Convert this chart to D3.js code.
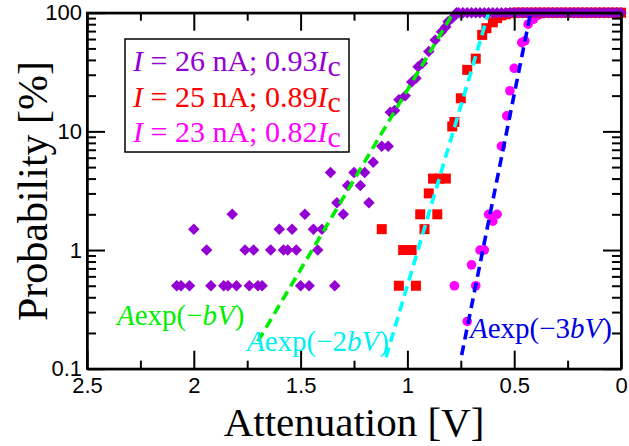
<!DOCTYPE html>
<html>
<head>
<meta charset="utf-8">
<script src="https://cdn.jsdelivr.net/npm/d3@7/dist/d3.min.js"></script>
<style>
  body { margin: 0; background: #fff; }
  svg { display: block; }
</style>
</head>
<body>
<div id="chart"></div>
<script>
// switching probability vs attenuation, three bias currents
// [attenuation V, probability %]
var set26 = [
  [2.08,0.5],[2.06,0.5],[2.02,0.5],[1.92,0.5],[1.86,0.5],[1.84,0.5],[1.80,0.5],
  [1.74,0.5],[1.70,0.5],[1.68,0.5],[1.50,0.5],[1.46,0.5],[1.34,0.5],
  [1.94,1],[1.76,1],[1.72,1],[1.64,1],[1.58,1],[1.56,1],[1.52,1],[1.42,1],
  [2.00,1.5],[1.60,1.5],[1.54,1.5],[1.44,1.5],[1.40,1.5],
  [1.82,2],[1.48,2],[1.30,2],
  [1.36,4.5],[1.33,2.5],[1.28,3.5],[1.25,4.5],[1.22,3.5],[1.20,4.5],[1.18,2.5],
  [1.16,5.5],[1.12,7.5],[1.09,7.5],[1.08,14.5],[1.06,15],[1.04,18.5],[1.01,20],
  [0.98,26],[0.96,28],[0.95,35],[0.93,37.5],[0.90,47],[0.87,59],[0.84,69],
  [0.82,76],[0.81,84],[0.79,90],[0.77,100]
];
var top26 = [0.76,0.74,0.72,0.70,0.68,0.66,0.64,0.62,0.60,0.58,0.56,0.54,0.52,
  0.50,0.48,0.46,0.44,0.42,0.40,0.38,0.36,0.34,0.32,0.30,0.28,0.26,0.24,0.22,
  0.20,0.18,0.16,0.14,0.12,0.10,0.08,0.06,0.04,0.02,0.00];

var set25 = [
  [1.12,1.5],[1.04,0.5],[0.96,0.5],[1.02,1],[0.98,1],[0.94,2],[0.92,1.5],
  [0.86,2],[0.90,3],[0.88,4],[0.85,4],[0.82,4],[0.79,11],[0.78,12],[0.75,19],
  [0.72,33],[0.68,41],[0.65,65],[0.63,74],[0.60,83],[0.58,90],[0.56,95],
  [0.54,97],[0.52,99]
];
var top25 = [0.50,0.48,0.46,0.44,0.42,0.40,0.38,0.36,0.34,0.32,0.30,0.28,0.26,
  0.24,0.22,0.20,0.18,0.16,0.14,0.12,0.10,0.08,0.06,0.04,0.02,0.00];

var set23 = [
  [0.78,0.5],[0.72,0.25],[0.70,0.75],[0.68,0.5],[0.66,1],[0.64,1],[0.62,2],
  [0.60,1.75],[0.58,2],[0.56,7.5],[0.535,13.5],[0.52,22],[0.50,34],[0.465,56],
  [0.45,58],[0.435,80],[0.41,88],[0.39,95],[0.37,98]
];
var top23 = [0.36,0.34,0.32,0.30,0.28,0.26,0.24,0.22,0.20,0.18,0.16,0.14,0.12,
  0.10,0.08,0.06,0.04,0.02,0.00];

// fitted lines A exp(-n b V), end points
var fitB  = [[1.70,0.17],[0.785,100]];
var fit2B = [[1.10,0.125],[0.62,100]];
var fit3B = [[0.746,0.13],[0.423,100]];

var xMajor = [2.5,2,1.5,1,0.5,0];
var xMinor = [2.25,1.75,1.25,0.75,0.25];
var yMajor = [0.1,1,10,100];
var yMinor = [0.2,0.3,0.4,0.5,0.6,0.7,0.8,0.9,2,3,4,5,6,7,8,9,20,30,40,50,60,70,80,90];

(function() {
  var W = 629, H = 446;
  var L = 87, R = 621, T = 12.7, B = 368.7;

  var svg = d3.select('#chart').append('svg')
      .attr('width', W)
      .attr('height', H);

  var x = d3.scaleLinear().domain([2.5, 0]).range([L, R]);
  var y = d3.scaleLog().domain([0.1, 100]).range([B, T]);

  var serif = "'Liberation Serif', 'Times New Roman', serif",
      sans = "'Liberation Sans', Arial, Helvetica, sans-serif";

  function addPts(pairs, tops) {
    return pairs.concat(tops.map(function(v) { return [v, 100]; }));
  }

  // markers
  svg.append('g').selectAll('circle')
      .data(addPts(set23, top23))
    .enter().append('circle')
      .attr('cx', function(d) { return x(d[0]); })
      .attr('cy', function(d) { return y(d[1]); })
      .attr('r', 4.8)
      .attr('fill', '#ff00ff');

  svg.append('g').selectAll('path')
      .data(addPts(set25, top25))
    .enter().append('path')
      .attr('d', d3.symbol().type(d3.symbolSquare).size(100)())
      .attr('transform', function(d) { return 'translate(' + x(d[0]) + ',' + y(d[1]) + ')'; })
      .attr('fill', '#ff0000');

  svg.append('g').selectAll('path')
      .data(addPts(set26, top26))
    .enter().append('path')
      .attr('d', d3.symbol().type(d3.symbolSquare).size(66)())
      .attr('transform', function(d) { return 'translate(' + x(d[0]) + ',' + y(d[1]) + ') rotate(45)'; })
      .attr('fill', '#9400d3');

  // fit lines
  var line = d3.line()
      .x(function(d) { return x(d[0]); })
      .y(function(d) { return y(d[1]); });

  [[fitB, '#00ee00'], [fit2B, '#00ffff'], [fit3B, '#0000ff']].forEach(function(f) {
    svg.append('path')
        .attr('d', line(f[0]))
        .attr('fill', 'none')
        .attr('stroke', f[1])
        .attr('stroke-width', 3.6)
        .attr('stroke-dasharray', '10,6');
  });

  // axes: inward ticks on all four sides
  function mkAxis(axis, vals, size, labels) {
    return axis.tickValues(vals).tickSize(-size).tickSizeOuter(0)
      .tickFormat(labels ? function(d) { return String(d); } : '');
  }

  var gBottom = svg.append('g').attr('transform', 'translate(0,' + B + ')');
  gBottom.call(mkAxis(d3.axisBottom(x), xMajor, 18, true).tickPadding(9));
  gBottom.append('g').call(mkAxis(d3.axisBottom(x), xMinor, 8));

  var gTop = svg.append('g').attr('transform', 'translate(0,' + T + ')');
  gTop.call(mkAxis(d3.axisTop(x), xMajor, 18));
  gTop.append('g').call(mkAxis(d3.axisTop(x), xMinor, 8));

  var gLeft = svg.append('g').attr('transform', 'translate(' + L + ',0)');
  gLeft.call(mkAxis(d3.axisLeft(y), yMajor, 18, true).tickPadding(5));
  gLeft.append('g').call(mkAxis(d3.axisLeft(y), yMinor, 9));

  var gRight = svg.append('g').attr('transform', 'translate(' + R + ',0)');
  gRight.call(mkAxis(d3.axisRight(y), yMajor, 18));
  gRight.append('g').call(mkAxis(d3.axisRight(y), yMinor, 9));

  svg.selectAll('.domain').attr('stroke', '#000').attr('stroke-width', 2);
  svg.selectAll('.tick line').attr('stroke', '#000').attr('stroke-width', 2);
  svg.selectAll('.tick text')
      .attr('fill', '#000')
      .style('font-family', sans)
      .style('font-size', '22px');

  // frame
  svg.append('rect')
      .attr('x', L).attr('y', T)
      .attr('width', R - L).attr('height', B - T)
      .attr('fill', 'none')
      .attr('stroke', '#000')
      .attr('stroke-width', 2);

  // axis titles
  svg.append('text')
      .attr('x', (L + R) / 2)
      .attr('y', 436)
      .attr('text-anchor', 'middle')
      .style('font-family', serif)
      .style('font-size', '41px')
      .text('Attenuation [V]');

  svg.append('text')
      .attr('transform', 'translate(47,191) rotate(-90)')
      .attr('text-anchor', 'middle')
      .style('font-family', serif)
      .style('font-size', '42px')
      .text('Probability [%]');

  // legend
  var legend = [
    ['26', '0.93', '#9400d3'],
    ['25', '0.89', '#ff0000'],
    ['23', '0.82', '#ff00ff']
  ];

  svg.append('rect')
      .attr('x', 125).attr('y', 39)
      .attr('width', 224).attr('height', 113)
      .attr('fill', '#fff')
      .attr('stroke', '#000')
      .attr('stroke-width', 1.5);

  legend.forEach(function(l, i) {
    var t = svg.append('text')
        .attr('x', 133)
        .attr('y', 71 + i * 35.5)
        .attr('fill', l[2])
        .style('font-family', serif)
        .style('font-size', '30px');
    t.append('tspan').style('font-style', 'italic').text('I');
    t.append('tspan').text(' = ' + l[0] + ' nA; ' + l[1]);
    t.append('tspan').style('font-style', 'italic').text('I');
    t.append('tspan').attr('dy', 5).text('c');
  });

  // fit labels
  var fitLabels = [
    ['', 117, 325, '#00ee00'],
    ['2', 247, 351, '#00f0f0'],
    ['3', 470, 338, '#0000e0']
  ];

  fitLabels.forEach(function(f) {
    var t = svg.append('text')
        .attr('x', f[1])
        .attr('y', f[2])
        .attr('fill', f[3])
        .style('font-family', serif)
        .style('font-size', '29px');
    t.append('tspan').style('font-style', 'italic').text('A');
    t.append('tspan').text('exp(\u2212' + f[0]);
    t.append('tspan').style('font-style', 'italic').text('bV');
    t.append('tspan').text(')');
  });
})();
</script>
</body>
</html>
